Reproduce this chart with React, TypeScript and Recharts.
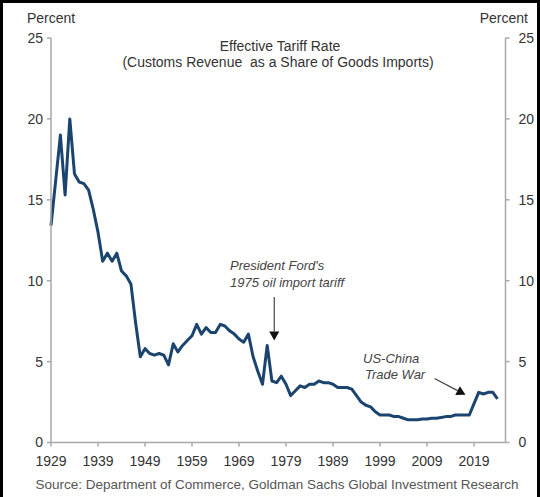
import { LineChart, Line, XAxis, YAxis, ReferenceLine } from 'recharts';

// Effective tariff rate, customs revenue as % of goods imports, 1929-2024
const START_YEAR = 1929;
const TARIFF_RATE = [
  13.4, 16.2, 19.0, 15.3, 20.0, 16.6, 16.1, 16.0, 15.6, 14.4,
  13.0, 11.2, 11.7, 11.2, 11.7, 10.6, 10.3, 9.8, 7.4, 5.3,
  5.8, 5.5, 5.4, 5.5, 5.4, 4.8, 6.1, 5.6, 6.0, 6.3,
  6.6, 7.3, 6.7, 7.1, 6.8, 6.8, 7.3, 7.2, 6.9, 6.7,
  6.4, 6.2, 6.7, 5.3, 4.4, 3.6, 6.0, 3.8, 3.7, 4.1,
  3.6, 2.9, 3.2, 3.5, 3.4, 3.6, 3.6, 3.8, 3.7, 3.7,
  3.6, 3.4, 3.4, 3.4, 3.3, 2.9, 2.5, 2.3, 2.2, 1.9,
  1.7, 1.7, 1.7, 1.6, 1.6, 1.5, 1.4, 1.4, 1.4, 1.45,
  1.45, 1.5, 1.5, 1.55, 1.6, 1.6, 1.7, 1.7, 1.7, 1.7,
  2.4, 3.1, 3.0, 3.1, 3.1, 2.7,
];
const YEARS = TARIFF_RATE.map((_, i) => START_YEAR + i);
const X_TICKS = [1929, 1939, 1949, 1959, 1969, 1979, 1989, 1999, 2009, 2019];
const Y_TICKS = [0, 5, 10, 15, 20, 25];

const data = YEARS.map((year, i) => ({ year, rate: TARIFF_RATE[i] }));

const FONT = '"Liberation Sans", Arial, sans-serif';
const AXIS_GREY = '#a8a8a8';
const LINE_BLUE = '#1b456f';

// arrow drawn from (x1,y1) to the tip at (x2,y2)
function Arrow(props: any) {
  const { x1, y1, x2, y2 } = props;
  const dx = x2 - x1;
  const dy = y2 - y1;
  const len = Math.sqrt(dx * dx + dy * dy) || 1;
  const ux = dx / len;
  const uy = dy / len;
  const head = 9;
  const half = 5;
  const bx = x2 - ux * head;
  const by = y2 - uy * head;
  const pts = `${x2},${y2} ${bx - uy * half},${by + ux * half} ${bx + uy * half},${by - ux * half}`;
  return (
    <g>
      <line x1={x1} y1={y1} x2={bx} y2={by} stroke="#444" strokeWidth={1.2} />
      <polygon points={pts} fill="#111" />
    </g>
  );
}

export default function App() {
  const tickStyle = { fill: '#333', fontSize: 14, fontFamily: FONT };
  const axisProps = {
    axisLine: { stroke: AXIS_GREY, strokeWidth: 1.5 },
    tickLine: { stroke: AXIS_GREY, strokeWidth: 1.5 },
    tick: tickStyle,
    tickSize: 4,
    interval: 0 as const,
  };
  return (
    <div style={{ position: 'absolute', left: 0, top: 0, width: 540, height: 497, background: '#fff', overflow: 'hidden' }}>
      <LineChart width={540} height={497} data={data} margin={{ top: 38, right: 0, bottom: 24.5, left: 0 }}>
        <XAxis
          dataKey="year"
          type="number"
          domain={[1929, 2025.7]}
          ticks={X_TICKS}
          height={30}
          tickMargin={10}
          {...axisProps}
        />
        <YAxis yAxisId="left" domain={[0, 25]} ticks={Y_TICKS} width={51} tickMargin={4} {...axisProps} />
        <YAxis
          yAxisId="right"
          orientation="right"
          domain={[0, 25]}
          ticks={Y_TICKS}
          width={34.5}
          tickMargin={9}
          {...axisProps}
        />
        {/* invisible copy so the right axis has a series bound to it */}
        <Line
          yAxisId="right"
          type="linear"
          dataKey="rate"
          stroke="none"
          strokeWidth={0}
          dot={false}
          activeDot={false}
          isAnimationActive={false}
        />
        <Line
          yAxisId="left"
          type="linear"
          dataKey="rate"
          stroke={LINE_BLUE}
          strokeWidth={3}
          strokeLinejoin="round"
          dot={false}
          isAnimationActive={false}
        />
        <ReferenceLine
          yAxisId="left"
          segment={[{ x: 1976.5, y: 9.0 }, { x: 1976.5, y: 6.3 }]}
          shape={Arrow}
        />
        <ReferenceLine
          yAxisId="left"
          segment={[{ x: 2010.6, y: 3.95 }, { x: 2017.2, y: 2.95 }]}
          shape={Arrow}
        />
      </LineChart>

      <svg width={540} height={497} style={{ position: 'absolute', left: 0, top: 0, pointerEvents: 'none' }}>
        <g fontFamily={FONT} fill="#333">
          <text x={27} y={18} fontSize={14} dominantBaseline="central">Percent</text>
          <text x={528} y={18} fontSize={14} textAnchor="end" dominantBaseline="central">Percent</text>
          <text x={280} y={46} fontSize={14} textAnchor="middle" dominantBaseline="central">Effective Tariff Rate</text>
          <text x={278} y={62} fontSize={14} textAnchor="middle" dominantBaseline="central">
            {'(Customs Revenue \u00a0as a Share of Goods Imports)'}
          </text>
        </g>
        <g fontFamily={FONT} fill="#444" fontStyle="italic" fontSize={13}>
          <text x={230} y={265} dominantBaseline="central">President Ford's</text>
          <text x={230} y={282} dominantBaseline="central">1975 oil import tariff</text>
          <text x={363} y={358} dominantBaseline="central">US-China</text>
          <text x={365} y={374} dominantBaseline="central">Trade War</text>
        </g>
        <text
          x={277}
          y={484}
          fontSize={13.5}
          fontFamily={FONT}
          fill="#555"
          textAnchor="middle"
          dominantBaseline="central"
        >
          Source: Department of Commerce, Goldman Sachs Global Investment Research
        </text>
      </svg>

      <div style={{ position: 'absolute', left: 0, top: 0, width: 3, height: 497, background: '#000' }} />
      <div style={{ position: 'absolute', left: 0, top: 0, width: 540, height: 3, background: '#000' }} />
      <div style={{ position: 'absolute', left: 537, top: 0, width: 3, height: 497, background: '#000' }} />
    </div>
  );
}
